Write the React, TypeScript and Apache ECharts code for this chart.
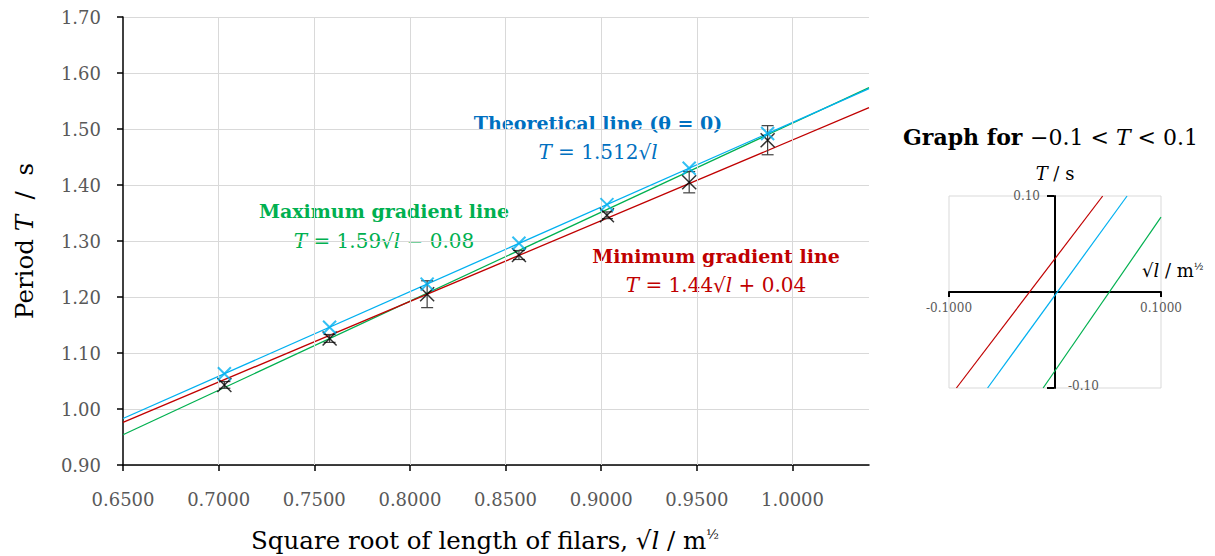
import React, { useEffect, useRef } from 'react';
import * as echarts from 'echarts';

// ---------- data ----------
const xTickValues = [0.65, 0.7, 0.75, 0.8, 0.85, 0.9, 0.95, 1.0];
const sqrtL = [0.703, 0.758, 0.809, 0.857, 0.903, 0.946, 0.987];
const periodMeasured = [1.043, 1.126, 1.205, 1.275, 1.346, 1.405, 1.48];
const periodError = [0.006, 0.007, 0.024, 0.008, 0.006, 0.019, 0.026];
const periodTheory = [1.063, 1.146, 1.223, 1.296, 1.365, 1.43, 1.492];
const lineX = [0.65, 1.04];
const theoryLine = [0.983, 1.572];
const maxGradLine = [0.954, 1.574];
const minGradLine = [0.976, 1.538];
// inset lines (x, T) pairs
const insetTheory = [[-0.0636, -0.1], [0.068, 0.1]];
const insetMin = [[-0.093, -0.1], [0.045, 0.1]];
const insetMax = [[-0.0112, -0.1], [0.1, 0.078]];
const insetXLabels = ['-0.1000', '0.1000'];
const insetYLabels = ['0.10', '-0.10'];

const FONT = '"DejaVu Serif", serif';
const GREY = '#595959';
const BLUE_LINE = '#00B0F0';
const GREEN = '#00B050';
const RED = '#C00000';
const BLUE_TEXT = '#0070C0';
const X_SYMBOL = 'path://M0,0L10,10M10,0L0,10';

function rich(size: number, color: string) {
  return {
    r: { fontFamily: FONT, fontSize: size, color, fill: color },
    i: { fontFamily: FONT, fontSize: size, fontStyle: 'italic', color, fill: color },
    b: { fontFamily: FONT, fontSize: size, fontWeight: 'bold', color, fill: color },
    s: { fontFamily: FONT, fontSize: Math.round(size * 0.55), color, fill: color, verticalAlign: 'top' },
  };
}

function txt(x: number, y: number, text: string, size: number, color: string, align = 'center') {
  return {
    type: 'text',
    x,
    y,
    style: {
      text,
      align,
      verticalAlign: 'middle',
      fontFamily: FONT,
      fontSize: size,
      fill: color,
      rich: rich(size, color),
    },
  };
}

export default function App() {
  const ref = useRef<HTMLDivElement>(null);
  useEffect(() => {
    const chart = echarts.init(ref.current!, null, { renderer: 'svg' });
    const option: any = {
      animation: false,
      backgroundColor: '#fff',
      grid: [
        { left: 123, top: 17, width: 746, height: 448, containLabel: false, outerBoundsMode: 'none' },
        {
          left: 949, top: 196, width: 212, height: 192, show: true, borderColor: '#d9d9d9', borderWidth: 1,
          backgroundColor: 'transparent', outerBoundsMode: 'none',
        },
      ],
      xAxis: [
        {
          gridIndex: 0,
          type: 'value',
          min: 0.65,
          max: 1.04,
          interval: 0.05,
          axisLine: { show: true, onZero: false, lineStyle: { color: '#000', width: 1.5 } },
          axisTick: { show: true, customValues: xTickValues, length: 6, lineStyle: { color: '#000', width: 1.5 } },
          axisLabel: {
            customValues: xTickValues,
            formatter: (v: number) => v.toFixed(4),
            color: GREY,
            fontFamily: FONT,
            fontSize: 18,
            margin: 25,
          },
          splitLine: { show: false },
          name: '{r|Square root of length of filars, √}{i|l}{r| / m}{s|½}',
          nameLocation: 'middle',
          nameGap: 63,
          nameTextStyle: {
            fontFamily: FONT, fontSize: 24.5, color: '#000', rich: rich(24.5, '#000'), padding: [0, 22, 0, 0],
          },
        },
        {
          gridIndex: 1,
          type: 'value',
          min: -0.1,
          max: 0.1,
          interval: 0.1,
          axisLine: { show: true, onZero: true, lineStyle: { color: '#000', width: 2 } },
          axisTick: { show: false },
          axisLabel: { show: false },
          splitLine: { show: false },
        },
      ],
      yAxis: [
        {
          gridIndex: 0,
          type: 'value',
          min: 0.9,
          max: 1.7,
          interval: 0.1,
          axisLine: { show: true, onZero: false, lineStyle: { color: '#000', width: 1.5 } },
          axisTick: { show: true, length: 6, lineStyle: { color: '#000', width: 1.5 } },
          axisLabel: {
            formatter: (v: number) => v.toFixed(2),
            color: GREY,
            fontFamily: FONT,
            fontSize: 18,
            margin: 22,
          },
          splitLine: { show: true, lineStyle: { color: '#d9d9d9', width: 1 } },
          name: '{r|Period }{i|T}{r|  /  s}',
          nameLocation: 'middle',
          nameGap: 86,
          nameTextStyle: { fontFamily: FONT, fontSize: 24.5, color: '#000', rich: rich(24.5, '#000') },
        },
        {
          gridIndex: 1,
          type: 'value',
          min: -0.1,
          max: 0.1,
          interval: 0.1,
          axisLine: { show: true, onZero: true, lineStyle: { color: '#000', width: 2 } },
          axisTick: { show: false },
          axisLabel: { show: false },
          splitLine: { show: false },
          name: '{i|T}{r| / s}',
          nameLocation: 'end',
          nameGap: 14,
          nameTextStyle: { fontFamily: FONT, fontSize: 18, color: '#000', rich: rich(18, '#000') },
        },
      ],
      series: [
        {
          type: 'line',
          xAxisIndex: 0,
          yAxisIndex: 0,
          data: [[0.65, 0.9]],
          symbol: 'none',
          lineStyle: { width: 0 },
          z: 0,
          silent: true,
          markLine: {
            silent: true,
            symbol: ['none', 'none'],
            label: { show: false },
            lineStyle: { color: '#d9d9d9', width: 1, type: 'solid' },
            data: xTickValues.slice(1).map((v) => ({ xAxis: v })),
          },
        },
        {
          type: 'line',
          xAxisIndex: 0,
          yAxisIndex: 0,
          data: lineX.map((x, i) => [x, maxGradLine[i]]),
          symbol: 'none',
          lineStyle: { color: GREEN, width: 1.3 },
          z: 3,
        },
        {
          type: 'line',
          xAxisIndex: 0,
          yAxisIndex: 0,
          data: lineX.map((x, i) => [x, minGradLine[i]]),
          symbol: 'none',
          lineStyle: { color: RED, width: 1.3 },
          z: 3,
        },
        {
          type: 'line',
          xAxisIndex: 0,
          yAxisIndex: 0,
          data: lineX.map((x, i) => [x, theoryLine[i]]),
          symbol: 'none',
          lineStyle: { color: BLUE_LINE, width: 1.3 },
          z: 3,
        },
        {
          type: 'custom',
          xAxisIndex: 0,
          yAxisIndex: 0,
          data: sqrtL.map((x, i) => [x, periodMeasured[i], periodError[i]]),
          encode: { x: 0, y: 1 },
          z: 4,
          renderItem: (params: any, api: any) => {
            const x = api.value(0);
            const y = api.value(1);
            const e = api.value(2);
            const top = api.coord([x, y + e]);
            const bot = api.coord([x, y - e]);
            const hw = 6;
            const st = { stroke: '#404040', lineWidth: 1.2 };
            return {
              type: 'group',
              children: [
                { type: 'line', shape: { x1: top[0], y1: top[1], x2: bot[0], y2: bot[1] }, style: st },
                { type: 'line', shape: { x1: top[0] - hw, y1: top[1], x2: top[0] + hw, y2: top[1] }, style: st },
                { type: 'line', shape: { x1: bot[0] - hw, y1: bot[1], x2: bot[0] + hw, y2: bot[1] }, style: st },
              ],
            };
          },
        },
        {
          type: 'scatter',
          xAxisIndex: 0,
          yAxisIndex: 0,
          data: sqrtL.map((x, i) => [x, periodMeasured[i]]),
          symbol: X_SYMBOL,
          symbolSize: 14,
          itemStyle: { color: 'rgba(0,0,0,0)', borderColor: '#000', borderWidth: 1.5 },
          z: 5,
        },
        {
          type: 'scatter',
          xAxisIndex: 0,
          yAxisIndex: 0,
          data: sqrtL.map((x, i) => [x, periodTheory[i]]),
          symbol: X_SYMBOL,
          symbolSize: 13,
          itemStyle: { color: 'rgba(0,0,0,0)', borderColor: BLUE_LINE, borderWidth: 2 },
          z: 6,
        },
        {
          type: 'line',
          xAxisIndex: 1,
          yAxisIndex: 1,
          data: insetMin,
          symbol: 'none',
          lineStyle: { color: RED, width: 1.2 },
        },
        {
          type: 'line',
          xAxisIndex: 1,
          yAxisIndex: 1,
          data: insetTheory,
          symbol: 'none',
          lineStyle: { color: BLUE_LINE, width: 1.2 },
        },
        {
          type: 'line',
          xAxisIndex: 1,
          yAxisIndex: 1,
          data: insetMax,
          symbol: 'none',
          lineStyle: { color: GREEN, width: 1.2 },
        },
      ],
      graphic: [
        txt(598, 123, '{b|Theoretical line (θ = 0)}', 19, BLUE_TEXT),
        txt(598, 152, '{i|T}{r| = 1.512√}{i|l}', 20, BLUE_TEXT),
        txt(384, 211, '{b|Maximum gradient line}', 19, GREEN),
        txt(384, 241, '{i|T}{r| = 1.59√}{i|l}{r| − 0.08}', 20, GREEN),
        txt(716, 256, '{b|Minimum gradient line}', 19, RED),
        txt(716, 285, '{i|T}{r| = 1.44√}{i|l}{r| + 0.04}', 20, RED),
        txt(903, 137, '{b|Graph for }{r|−0.1 < }{i|T}{r| < 0.1}', 22, '#000', 'left'),
        txt(1142, 270, '{r|√}{i|l}{r| / m}{s|½}', 18, '#000', 'left'),
        // inset tick marks
        { type: 'line', shape: { x1: 1047, y1: 196, x2: 1054, y2: 196 }, style: { stroke: '#000', lineWidth: 2 } },
        { type: 'line', shape: { x1: 1047, y1: 388, x2: 1054, y2: 388 }, style: { stroke: '#000', lineWidth: 2 } },
        { type: 'line', shape: { x1: 949, y1: 292, x2: 949, y2: 297 }, style: { stroke: '#000', lineWidth: 2 } },
        { type: 'line', shape: { x1: 1161, y1: 292, x2: 1161, y2: 297 }, style: { stroke: '#000', lineWidth: 2 } },
        // inset tick labels
        txt(1040, 196, insetYLabels[0], 12, GREY, 'right'),
        txt(1068, 386, insetYLabels[1], 12, GREY, 'left'),
        txt(949, 308, insetXLabels[0], 12, GREY, 'center'),
        txt(1161, 308, insetXLabels[1], 12, GREY, 'center'),
      ],
    };
    chart.setOption(option);
    return () => chart.dispose();
  }, []);
  return (
    <div
      ref={ref}
      style={{ position: 'fixed', left: 0, top: 0, width: 1215, height: 556, background: '#fff' }}
    />
  );
}
